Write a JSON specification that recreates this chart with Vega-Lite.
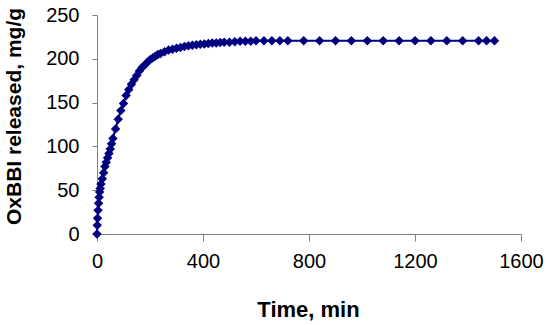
{
  "$schema": "https://vega.github.io/schema/vega-lite/v6.json",
  "width": 424,
  "height": 219,
  "autosize": {"type": "none"},
  "padding": {"left": 97, "top": 15, "right": 29, "bottom": 91},
  "background": "white",
  "config": {"view": {"stroke": null}, "font": "Liberation Sans"},
  "data": {"values": [
    {"t":0,"q":0},{"t":1,"q":10},{"t":2,"q":18},{"t":4,"q":27},{"t":6,"q":35},{"t":8,"q":42},{"t":10,"q":48},{"t":12,"q":52},{"t":15,"q":57},{"t":20,"q":63},{"t":25,"q":70},{"t":30,"q":77},{"t":35,"q":82},{"t":40,"q":87},{"t":45,"q":92},{"t":50,"q":97},{"t":55,"q":103},{"t":60,"q":109},{"t":70,"q":120},{"t":80,"q":131},{"t":90,"q":141},{"t":100,"q":149},{"t":110,"q":158},{"t":120,"q":165},{"t":130,"q":171},{"t":140,"q":176},{"t":150,"q":181},{"t":160,"q":186},{"t":170,"q":190},{"t":180,"q":193},{"t":190,"q":196},{"t":200,"q":199},{"t":210,"q":201},{"t":220,"q":203},{"t":230,"q":205},{"t":240,"q":206},{"t":255,"q":208},{"t":270,"q":210},{"t":285,"q":211},{"t":300,"q":212},{"t":315,"q":213},{"t":330,"q":214},{"t":345,"q":215},{"t":360,"q":215.5},{"t":375,"q":216},{"t":390,"q":216.5},{"t":405,"q":217},{"t":420,"q":217.5},{"t":435,"q":218},{"t":450,"q":218},{"t":465,"q":218.5},{"t":480,"q":219},{"t":500,"q":219},{"t":520,"q":219.5},{"t":540,"q":220},{"t":560,"q":220},{"t":580,"q":220},{"t":600,"q":220.5},{"t":630,"q":220.5},{"t":660,"q":220.5},{"t":690,"q":220.5},{"t":720,"q":220.5},{"t":780,"q":220.5},{"t":840,"q":220.5},{"t":900,"q":220.5},{"t":960,"q":220.5},{"t":1020,"q":220.5},{"t":1080,"q":220.5},{"t":1140,"q":220.5},{"t":1200,"q":220.5},{"t":1260,"q":220.5},{"t":1320,"q":220.5},{"t":1380,"q":220.5},{"t":1440,"q":220.5},{"t":1470,"q":220.5},{"t":1500,"q":220.5}
  ]},
  "encoding": {
    "x": {"field": "t", "type": "quantitative", "scale": {"domain": [0, 1600], "nice": false, "zero": true},
      "axis": {"title": "Time, min", "values": [0, 400, 800, 1200, 1600], "format": "d", "grid": false,
        "domainColor": "#808080", "tickColor": "#808080", "tickSize": 7,
        "labelFontSize": 20, "labelColor": "black", "labelPadding": 10, "labelFlush": false,
        "titleFontSize": 22, "titleFontWeight": "bold", "titleColor": "black",
        "titleX": 211, "titleY": 82, "titleBaseline": "alphabetic"}},
    "y": {"field": "q", "type": "quantitative", "scale": {"domain": [0, 250], "nice": false},
      "axis": {"title": "OxBBI released, mg/g", "values": [0, 50, 100, 150, 200, 250], "format": "d", "grid": false,
        "domainColor": "#808080", "tickColor": "#808080", "tickSize": 5,
        "labelFontSize": 20, "labelColor": "black", "labelPadding": 13, "labelFlush": false,
        "titleFontSize": 21, "titleFontWeight": "bold", "titleColor": "black",
        "titleX": -77, "titleY": 101, "titleBaseline": "alphabetic"}}
  },
  "layer": [
    {"mark": {"type": "line", "color": "#000080", "strokeWidth": 2}},
    {"mark": {"type": "point", "shape": "diamond", "filled": true, "color": "#000080", "opacity": 1, "size": 90}}
  ]
}
